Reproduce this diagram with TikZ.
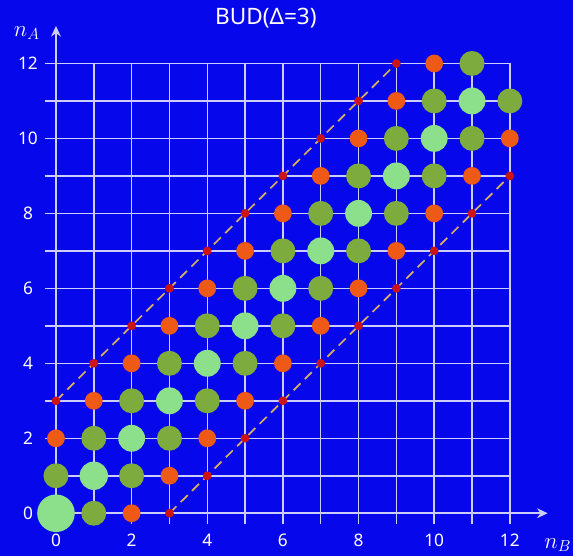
\documentclass[tikz,border=0pt]{standalone}
\usepackage{fontspec}
\setmainfont{Noto Sans}
\usetikzlibrary{arrows.meta}
\definecolor{bgblue}{HTML}{0707EC}
\definecolor{gridline}{HTML}{CDCDFA}
\definecolor{peak}{HTML}{8CE08C}
\definecolor{near}{HTML}{7DAB3D}
\definecolor{far}{HTML}{EE5A16}
\definecolor{rim}{HTML}{CC1414}
\definecolor{bound}{HTML}{D8B060}
\tikzset{
  gridln/.style={gridline,line width=0.4mm},
  axis/.style={gridline,line width=0.4mm,-{Stealth[length=2.8mm,width=2.6mm]}},
  bounddash/.style={bound,line width=0.45mm,dash pattern=on 2.6mm off 1.6mm},
  ticklbl/.style={white,font=\fontsize{13}{15}\selectfont},
  axislbl/.style={white,font=\fontsize{17}{19}\selectfont},
  titlelbl/.style={white,font=\fontsize{17}{20}\selectfont}
}
\begin{document}
\begin{tikzpicture}[x=1cm,y=0.991cm]
  \fill[bgblue] (-1.48cm,-1.13cm) rectangle (13.67cm,13.57cm);
  \useasboundingbox (-1.48cm,-1.13cm) rectangle (13.67cm,13.57cm);

  \foreach \k in {0,...,12} {
    \draw[gridln] (\k,-0.3) -- (\k,12);
    \draw[gridln] (-0.3,\k) -- (12,\k);
  }
  \coordinate (origin) at (0,0);
  \coordinate (xend) at (13,0);
  \coordinate (yend) at (0,13);
  \draw[axis] (origin) -- (xend);
  \draw[axis] (origin) -- (yend);

  \foreach \k in {0,2,...,12} {
    \node[ticklbl] (xl\k) at (\k,-0.71) {\k};
    \node[ticklbl] (yl\k) at (-0.74,\k) {\k};
  }
  \node[axislbl] (nb) at (13.27,-0.85) {$n_B$};
  \node[axislbl] (na) at (-0.77,12.81) {$n_A$};
  \node[titlelbl] (title) at (5.55,13.21) {BUD(Δ=3)};

  \coordinate (upa) at (0,3);
  \coordinate (upb) at (9,12);
  \coordinate (loa) at (3,0);
  \coordinate (lob) at (12,9);
  \draw[bounddash] (upa) -- (upb);
  \draw[bounddash] (loa) -- (lob);

  \fill[peak] (0,0) circle (0.497cm);
  \fill[peak] (1,1) circle (0.375cm);
  \foreach \k in {2,...,11}
    \fill[peak] (\k,\k) circle (0.355cm);
  \foreach \k in {0,...,11} {
    \fill[near] (\k+1,\k) circle (0.33cm);
    \fill[near] (\k,\k+1) circle (0.33cm);
  }
  \foreach \k in {0,...,10} {
    \fill[far] (\k+2,\k) circle (0.235cm);
    \fill[far] (\k,\k+2) circle (0.235cm);
  }
  \foreach \k in {0,...,9} {
    \fill[rim] (\k+3,\k) circle (0.115cm);
    \fill[rim] (\k,\k+3) circle (0.115cm);
  }
\end{tikzpicture}
\end{document}
